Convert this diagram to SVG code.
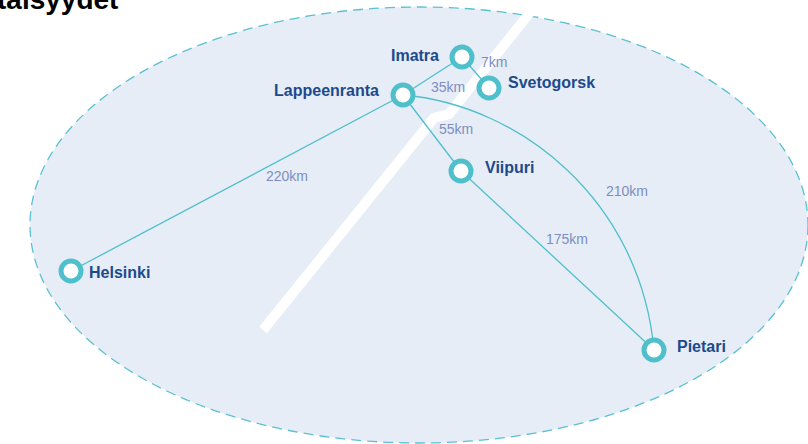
<svg xmlns="http://www.w3.org/2000/svg" width="808" height="444" viewBox="0 0 808 444">
<style>
.city{font-family:"Liberation Sans",Arial,sans-serif;font-weight:bold;font-size:16px;fill:#1c4a8c}
.dist{font-family:"Liberation Sans",Arial,sans-serif;font-size:14px;fill:#7d8dc2}
.edge{fill:none;stroke:#4fbfcc;stroke-width:1.3}
.node circle{fill:#fff;stroke:#4fbfcc;stroke-width:5}
</style>
<rect width="808" height="444" fill="#fff"/>
<text x="-3" y="9" font-family="Liberation Sans,Arial,sans-serif" font-weight="bold" font-size="28" fill="#000">täisyydet</text>
<g id="area">
<ellipse cx="419" cy="225" rx="389" ry="218" fill="#e6edf6" stroke="#5bc1d0" stroke-width="1.3" stroke-dasharray="10 6"/>
<polyline points="540,0 449,114 434,118 263,330" fill="none" stroke="#fff" stroke-width="10" stroke-linejoin="miter"/>
</g>
<g id="connectors">
<line class="edge" x1="71" y1="271" x2="403" y2="95"/>
<line class="edge" x1="403" y1="95" x2="462" y2="57"/>
<line class="edge" x1="462" y1="57" x2="489" y2="88"/>
<line class="edge" x1="403" y1="95" x2="461" y2="171"/>
<line class="edge" x1="461" y1="171" x2="654" y2="350"/>
<path class="edge" d="M403,95 C520,105 640,200 654,350"/>
<text class="dist" x="266" y="181">220km</text>
<text class="dist" x="431" y="92">35km</text>
<text class="dist" x="481" y="67">7km</text>
<text class="dist" x="439" y="134">55km</text>
<text class="dist" x="606" y="196">210km</text>
<text class="dist" x="546" y="244">175km</text>
</g>
<g id="helsinki" class="node"><circle cx="71" cy="271" r="10"/><text class="city" x="89" y="278">Helsinki</text></g>
<g id="lappeenranta" class="node"><circle cx="403" cy="95" r="10"/><text class="city" x="379" y="96" text-anchor="end">Lappeenranta</text></g>
<g id="imatra" class="node"><circle cx="462" cy="57" r="10"/><text class="city" x="439" y="61" text-anchor="end">Imatra</text></g>
<g id="svetogorsk" class="node"><circle cx="489" cy="88" r="10"/><text class="city" x="508" y="88">Svetogorsk</text></g>
<g id="viipuri" class="node"><circle cx="461" cy="171" r="10"/><text class="city" x="485" y="173">Viipuri</text></g>
<g id="pietari" class="node"><circle cx="654" cy="350" r="10"/><text class="city" x="677" y="352">Pietari</text></g>
</svg>
